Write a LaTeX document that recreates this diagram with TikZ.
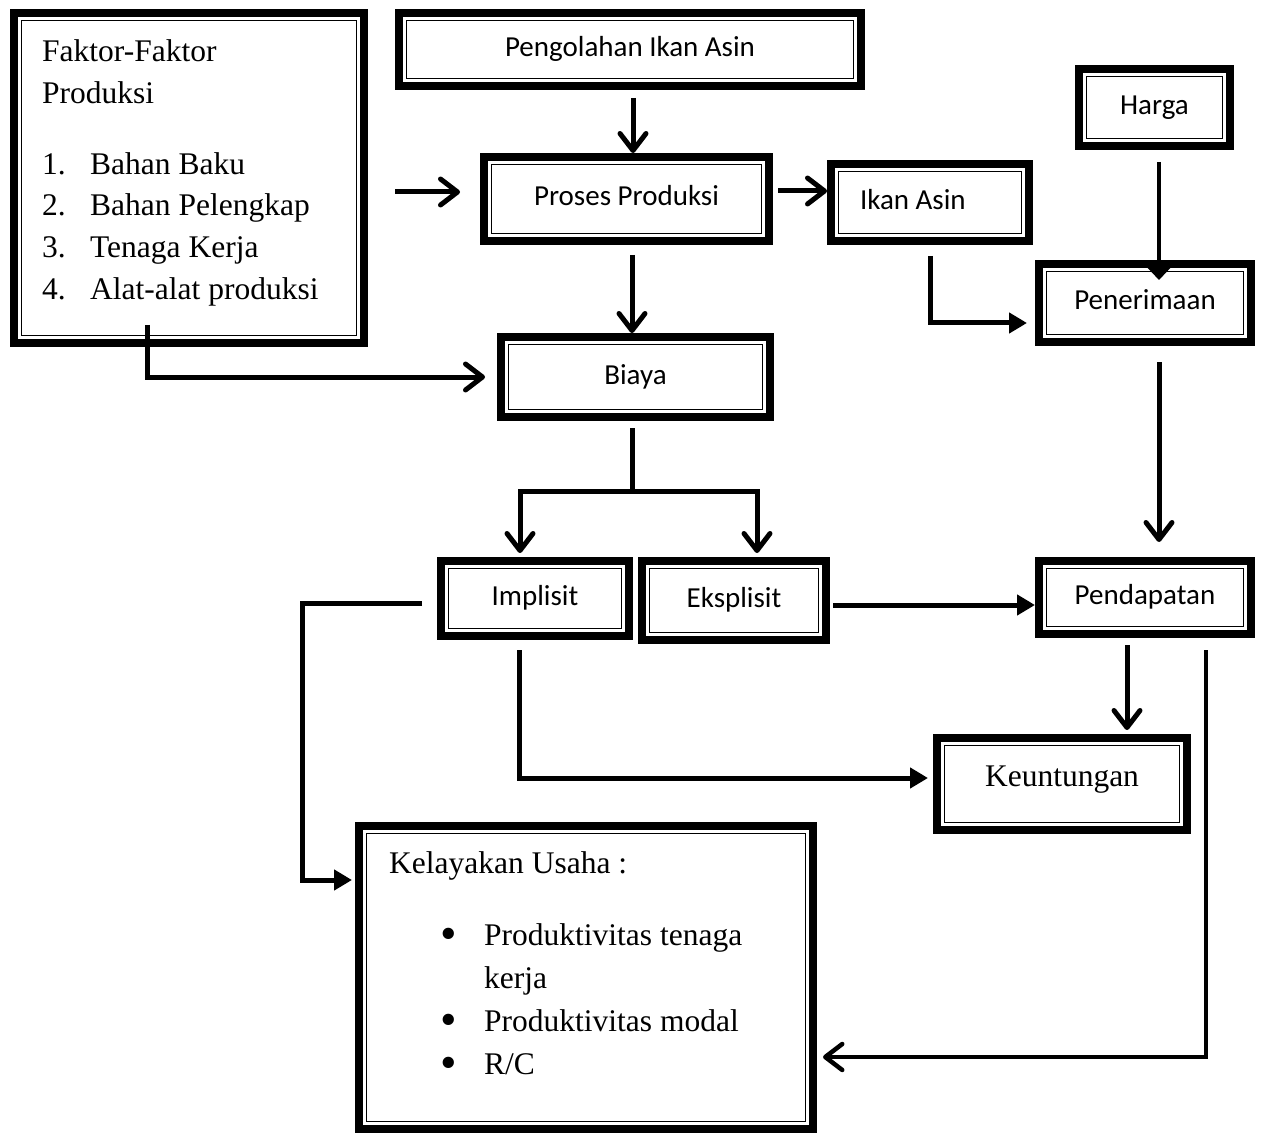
\documentclass[tikz,border=0pt]{standalone}
\usepackage{fontspec}
\setmainfont{Liberation Serif}
\newfontfamily\calib{Carlito}
\usetikzlibrary{arrows.meta}

\newcommand{\titik}{\raisebox{-4pt}{\scalebox{1.5}{\textbullet}}}

\tikzset{
	kotak/.style 2 args={draw, line width=8pt, minimum width=#1, minimum height=#2, inner sep=0pt,
		font=\calib\fontsize{29}{35}\selectfont, text height=20pt, text depth=6pt,
		path picture={\draw[line width=1.3pt] ([shift={(7.5pt,-7.5pt)}]path picture bounding box.north west) rectangle ([shift={(-7.5pt,7.5pt)}]path picture bounding box.south east);}},
	garis/.style={line width=5pt},
	vpanah/.style={garis, -{Straight Barb[length=17pt, width=26pt, round]}},
	tpanah/.style={garis, -{Triangle[length=18pt, width=20pt]}},
}

\begin{document}
\begin{tikzpicture}[x=1pt, y=-1pt]
	\useasboundingbox (0,0) rectangle (1262,1134);
	
	% faktor produksi
	\node[kotak={350pt}{330pt}] (fak) at (189, 178) {};
	\node[anchor=north west, inner sep=0pt, font=\fontsize{31.5}{41.7}\selectfont] (fakteks) at (42, 32.5) {%
		\begin{tabular}{@{}p{48pt}@{}l@{}}
		\multicolumn{2}{@{}l@{}}{Faktor-Faktor}\\
		\multicolumn{2}{@{}l@{}}{Produksi}\\[29pt]
		1. & Bahan Baku\\
		2. & Bahan Pelengkap\\
		3. & Tenaga Kerja\\
		4. & Alat-alat produksi
		\end{tabular}};
	
	% baris atas
	\node[kotak={462pt}{73pt}] (olah) at (630, 49.5) {Pengolahan Ikan Asin};
	\node[kotak={285pt}{84pt}] (pro) at (626.5, 199) {Proses Produksi};
	\node[kotak={198pt}{77pt}, text width=140pt, align=flush left] (ikan) at (930, 202.5) {Ikan Asin};
	\node[kotak={151pt}{77pt}] (harga) at (1154.5, 107.5) {Harga};
	\node[kotak={212pt}{78pt}] (terima) at (1145, 303) {Penerimaan};
	\node[kotak={269pt}{80pt}] (biaya) at (635.5, 377) {Biaya};
	
	% baris tengah
	\node[kotak={188pt}{75pt}] (imp) at (535, 598.5) {Implisit};
	\node[kotak={184pt}{79pt}] (eks) at (734, 600.5) {Eksplisit};
	\node[kotak={212pt}{73pt}] (dapat) at (1145, 597.5) {Pendapatan};
	\node[kotak={250pt}{92pt}, font=\fontsize{31.5}{38}\selectfont, text height=22pt, text depth=7pt] (untung) at (1062, 784) {\raisebox{5pt}{Keuntungan}};
	
	% kelayakan usaha
	\node[kotak={454pt}{303pt}] (kel) at (586, 977.5) {};
	\node[anchor=north west, inner sep=0pt, font=\fontsize{31.5}{43}\selectfont] (kelteks) at (389, 842.9) {%
		\begin{tabular}{@{}p{51pt}@{}p{44pt}@{}l@{}}
		\multicolumn{3}{@{}l@{}}{Kelayakan Usaha :}\\[29pt]
		& \titik & Produktivitas tenaga\\
		& & kerja\\
		& \titik & Produktivitas modal\\
		& \titik & R/C
		\end{tabular}};
	
	% panah atas
	\coordinate (a1) at ([yshift=7pt]pro.west);
	\draw[vpanah, shorten <=27pt, shorten >=20pt] (fak.east |- a1) -- (a1);
	\coordinate (a2) at ([xshift=3pt]olah.south);
	\draw[vpanah, shorten <=8pt] (a2) -- (a2 |- pro.north);
	\coordinate (a3) at ([yshift=8pt]pro.east);
	\draw[vpanah, shorten <=5pt] (a3) -- (a3 -| ikan.west);
	\coordinate (a4) at ([xshift=5.5pt]pro.south);
	\draw[vpanah, shorten <=10pt] (a4) -- (a4 |- biaya.north);
	\draw[vpanah, shorten >=12pt] ([xshift=-42pt, yshift=22pt]fak.south) |- (biaya.west);
	\draw[tpanah, shorten >=8pt] ([yshift=-11pt]ikan.south) |- ([yshift=-20pt]terima.west);
	\coordinate (a7) at ([xshift=4.5pt]harga.south);
	\draw[garis, line width=4.5pt, -{Triangle[length=12pt, width=22pt]}, shorten <=12pt, shorten >=-20pt] (a7) -- (a7 |- terima.north);
	\coordinate (a8) at ([xshift=14pt]terima.south);
	\draw[vpanah, shorten <=16pt, shorten >=15pt] (a8) -- (a8 |- dapat.north);
	
	% cabang biaya
	\coordinate (cab) at ([xshift=-3.5pt, yshift=-70pt]biaya.south);
	\draw[garis] ([xshift=-3.5pt, yshift=-7pt]biaya.south) -- (cab);
	\draw[vpanah, shorten >=4pt] (cab) -| ([xshift=-15pt]imp.north);
	\draw[vpanah, shorten >=4pt] (cab) -| ([xshift=23pt]eks.north);
	
	% panah bawah
	\draw[tpanah, shorten <=15pt, shorten >=3pt] ([yshift=-4.5pt]imp.west) -- ++(-135,0) |- ([yshift=97.5pt]kel.west);
	\draw[tpanah, shorten <=10pt, shorten >=5pt] ([xshift=-16pt]imp.south) |- ([yshift=6pt]untung.west);
	\coordinate (a12) at ([yshift=-4.5pt]eks.east);
	\draw[tpanah, shorten <=3pt] (a12) -- (a12 -| dapat.west);
	\coordinate (a13) at ([xshift=-18pt]dapat.south);
	\draw[vpanah, shorten <=7pt, shorten >=4pt] (a13) -- (a13 |- untung.north);
	\draw[vpanah, line width=4.5pt, shorten >=6pt] ([xshift=61pt, yshift=-12pt]dapat.south) |- ([yshift=-79.5pt]kel.east);
\end{tikzpicture}
\end{document}
